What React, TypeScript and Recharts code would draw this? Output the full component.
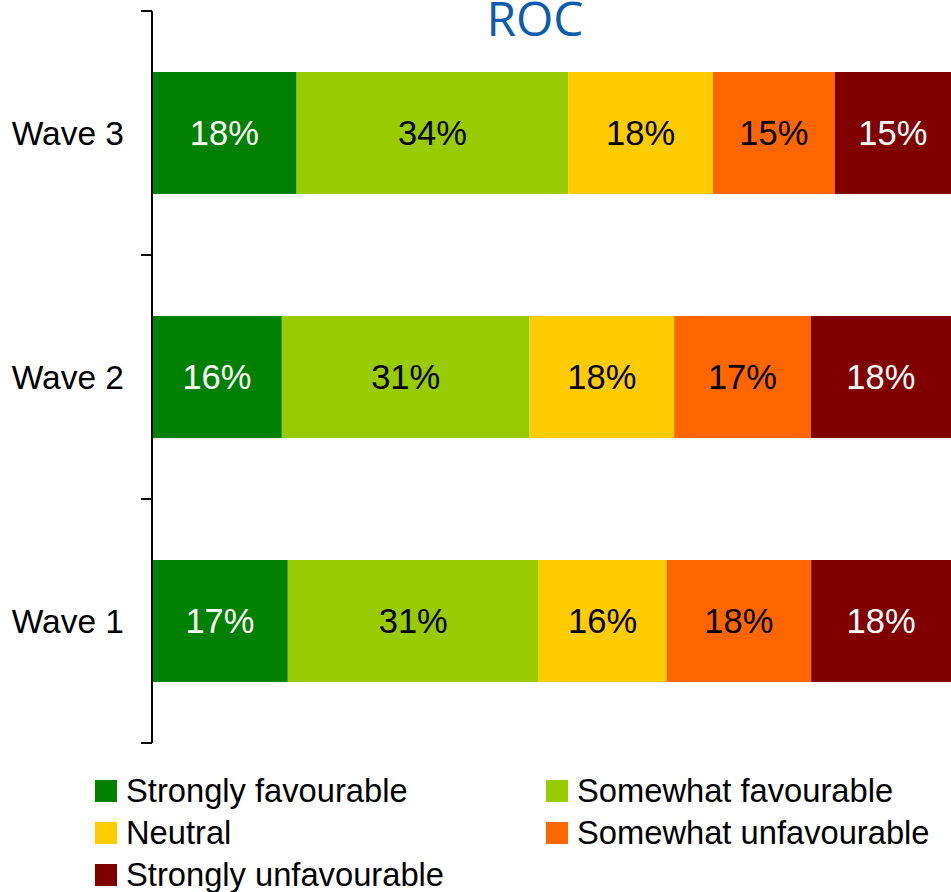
import React from 'react';
import { BarChart, Bar, XAxis, YAxis, LabelList } from 'recharts';

const waves = ['Wave 3', 'Wave 2', 'Wave 1'];
const seriesNames = [
  'Strongly favourable',
  'Somewhat favourable',
  'Neutral',
  'Somewhat unfavourable',
  'Strongly unfavourable',
];
const seriesColors = ['#008000', '#99cc00', '#ffcc00', '#ff6600', '#800000'];
const labelColors = ['#ffffff', '#000000', '#000000', '#000000', '#ffffff'];

// per wave, in series order
const stronglyFav = [18.1, 16.25, 17];
const somewhatFav = [34, 31, 31.4];
const neutral = [18.1, 18.1, 16];
const somewhatUnfav = [15.25, 17.1, 18.1];
const stronglyUnfav = [14.55, 17.55, 17.5];

const seriesValues = [stronglyFav, somewhatFav, neutral, somewhatUnfav, stronglyUnfav];
const keys = ['s0', 's1', 's2', 's3', 's4'];

const data = waves.map((wave, i) => {
  const row: Record<string, string | number> = { wave };
  keys.forEach((k, j) => {
    row[k] = seriesValues[j][i];
  });
  return row;
});

const FONT = '"Liberation Sans", Arial, Helvetica, sans-serif';

const WaveTick = (props: any) => {
  const { x, y, payload, index, visibleTicksCount } = props;
  const half = payload && payload.offset ? payload.offset : 122;
  const x1 = x + 17;
  const x2 = x + 28;
  return (
    <g>
      <text x={x} y={y} dy={12} textAnchor="end" fontSize={33.5} fontFamily={FONT} fill="#000">
        {payload.value}
      </text>
      <line x1={x1} x2={x2} y1={y - half} y2={y - half} stroke="#000" strokeWidth={2} />
      {index === visibleTicksCount - 1 && (
        <line x1={x1} x2={x2} y1={y + half} y2={y + half} stroke="#000" strokeWidth={2} />
      )}
    </g>
  );
};

export default function App() {
  return (
    <div style={{ position: 'absolute', left: 0, top: 0, width: 951, height: 892, overflow: 'hidden', background: '#fff' }}>
      <BarChart
        width={951}
        height={892}
        data={data}
        layout="vertical"
        barCategoryGap="25%"
        margin={{ top: 11, right: 0, bottom: 149, left: 0 }}
      >
        <XAxis type="number" domain={[0, 100]} hide />
        <YAxis
          type="category"
          dataKey="wave"
          width={152}
          tickSize={11}
          tickMargin={17}
          tickLine={false}
          axisLine={{ stroke: '#000', strokeWidth: 2 }}
          tick={<WaveTick />}
        />
        {keys.map((k, j) => (
          <Bar key={k} dataKey={k} stackId="a" fill={seriesColors[j]} name={seriesNames[j]} isAnimationActive={false}>
            <LabelList
              dataKey={k}
              position="center"
              fill={labelColors[j]}
              fontSize={34.5}
              fontFamily={FONT}
              formatter={(v: any) => `${Math.round(Number(v))}%`}
            />
          </Bar>
        ))}
      </BarChart>
      <svg width={951} height={60} style={{ position: 'absolute', left: 0, top: 0 }}>
        <text x={535} y={36} textAnchor="middle" fontSize={48} fontFamily='"Open Sans", sans-serif' fill="#0b5cad">
          ROC
        </text>
      </svg>
      <div
        style={{
          position: 'absolute',
          left: 95,
          top: 770,
          display: 'grid',
          gridTemplateColumns: '451px 400px',
          rowGap: 0,
          fontFamily: FONT,
          fontSize: 32.7,
          color: '#000',
        }}
      >
        {seriesNames.map((name, j) => (
          <div key={name} style={{ display: 'flex', alignItems: 'center', height: 42, whiteSpace: 'nowrap' }}>
            <span style={{ width: 22, height: 22, background: seriesColors[j], marginRight: 9, flex: 'none' }} />
            <span>{name}</span>
          </div>
        ))}
      </div>
    </div>
  );
}
